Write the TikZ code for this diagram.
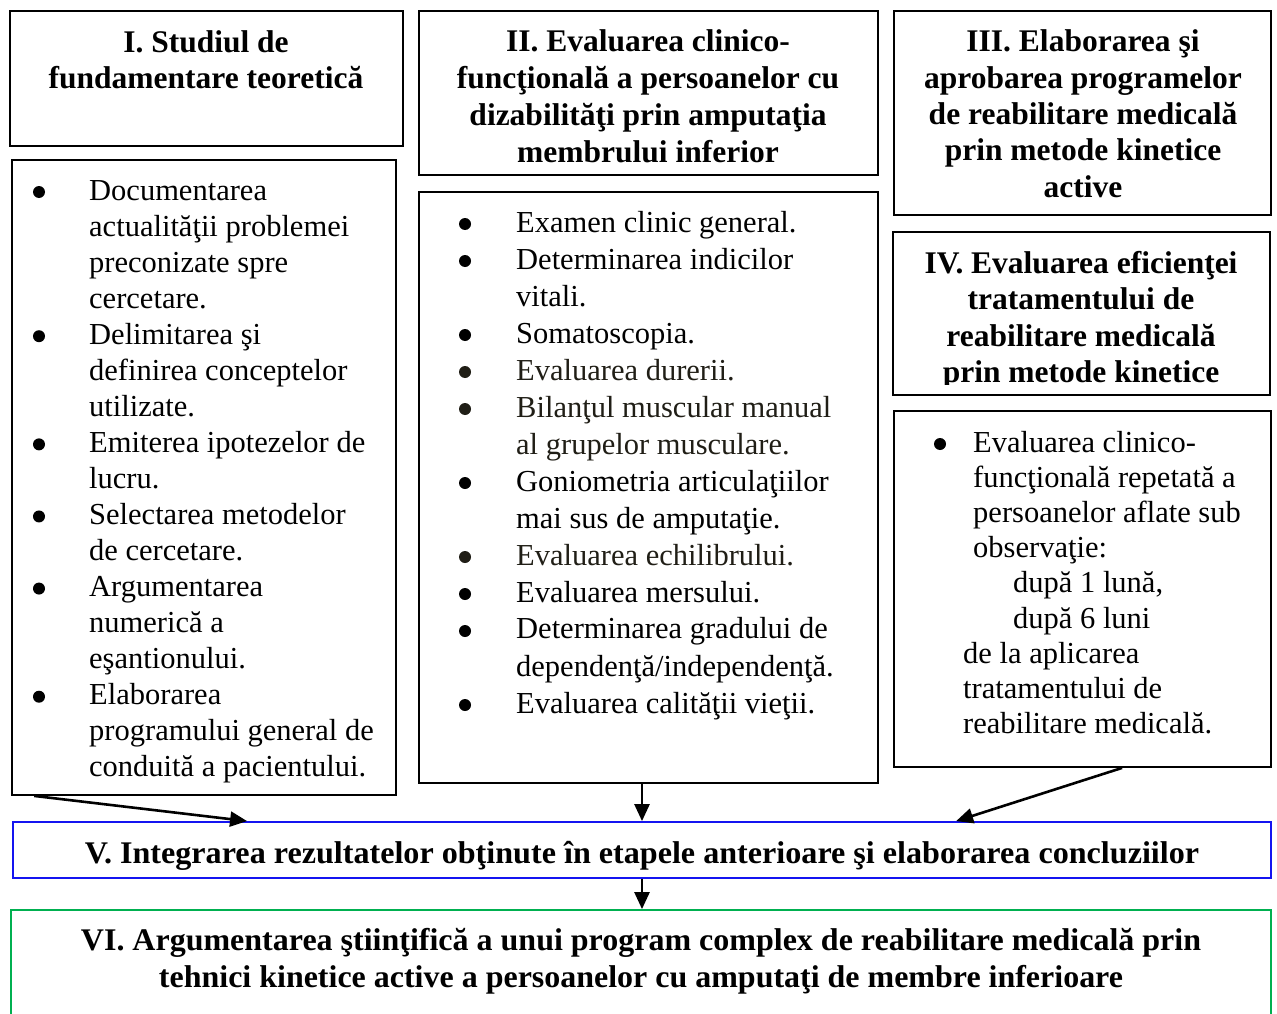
\documentclass[tikz,border=0pt]{standalone}
\usepackage{fontspec}
\usepackage{graphicx}
\setmainfont{Liberation Serif}
\usetikzlibrary{arrows.meta,fit,calc}
\definecolor{frameblue}{RGB}{20,20,240}
\definecolor{framegreen}{RGB}{0,176,80}
\definecolor{softink}{RGB}{32,30,22}
\tikzset{
  frame/.style={draw=black, line width=1.8pt, inner sep=0pt},
  txt/.style={inner sep=0pt, anchor=base west},
  ttl/.style={inner sep=0pt, anchor=base},
  flow/.style={line width=2.6pt, -{Triangle[length=17pt,width=15pt]}},
  dot/.style={fill=black},
}
\newcommand{\regsize}[1]{\fontsize{30.5}{#1}\selectfont}
\newcommand{\boldsize}[1]{\fontsize{31.5}{#1}\selectfont\bfseries}

\begin{document}
\begin{tikzpicture}[x=1pt,y=-1pt]
\useasboundingbox (0,0) rectangle (1277,1014);

% ---- frames ----
\node[frame, fit={(10,11) (403,146)}] (b1) {};
\node[frame, fit={(12,160) (396,795)}] (l1) {};
\node[frame, fit={(419,11) (878,175)}] (b2) {};
\node[frame, fit={(419,192) (878,783)}] (l2) {};
\node[frame, fit={(894,11) (1271,215)}] (b3) {};
\node[frame, fit={(893,232) (1270,395)}] (b4) {};
\node[frame, fit={(894,411) (1271,767)}] (l4) {};
\node[frame, draw=frameblue, fit={(13,822) (1271,878)}] (v) {};
\node[frame, draw=framegreen, fit={(11,910) (1271,1040)}] (v6) {};

% ---- stage I ----
\node[ttl] (t1) at (206,53) {\begin{minipage}[t]{380pt}\centering\boldsize{36}
I. Studiul de\\fundamentare teoretică\end{minipage}};

\node[txt] (l1t) at (89,200) {\begin{minipage}[t]{300pt}\raggedright\regsize{36.05}
Documentarea\\actualităţii problemei\\preconizate spre\\cercetare.\\
Delimitarea şi\\definirea conceptelor\\utilizate.\\
Emiterea ipotezelor de\\lucru.\\
Selectarea metodelor\\de cercetare.\\
Argumentarea\\numerică a\\eşantionului.\\
Elaborarea\\programului general de\\conduită a pacientului.\end{minipage}};
\foreach \k in {0,4,7,9,11,14}
  \fill[dot] (39,{200+36.05*\k-8}) circle (6);

% ---- stage II ----
\node[ttl] (t2) at (648,52) {\begin{minipage}[t]{450pt}\centering\boldsize{36.7}
II. Evaluarea clinico-\\funcţională a persoanelor cu\\dizabilităţi prin amputaţia\\membrului inferior\end{minipage}};

\node[txt] (l2t) at (516,232) {\begin{minipage}[t]{350pt}\raggedright\regsize{37}
Examen clinic general.\\
Determinarea indicilor\\vitali.\\
Somatoscopia.\\
{\color{softink}Evaluarea durerii.}\\
{\color{softink}Bilanţul muscular manual}\\{\color{softink}al grupelor musculare.}\\
Goniometria articulaţiilor\\mai sus de amputaţie.\\
{\color{softink}Evaluarea echilibrului.}\\
Evaluarea mersului.\\
Determinarea gradului de\\dependenţă/independenţă.\\
Evaluarea calităţii vieţii.\end{minipage}};
\foreach \k in {0,1,3,7,10,11,13}
  \fill[dot] (465,{232+37*\k-8}) circle (6);
\foreach \k in {4,5,9}
  \fill[dot, fill=softink] (465,{232+37*\k-8}) circle (6);

% ---- stage III ----
\node[ttl] (t3) at (1083,52) {\begin{minipage}[t]{370pt}\centering\boldsize{36.3}
III. Elaborarea şi\\aprobarea programelor\\de reabilitare medicală\\prin metode kinetice\\active\end{minipage}};

% ---- stage IV ----
\begin{scope}
\clip (893,232) rectangle (1270,384);
\node[ttl] (t4) at (1081,273) {\begin{minipage}[t]{370pt}\centering\boldsize{36.5}
IV. Evaluarea eficienţei\\tratamentului de\\reabilitare medicală\\prin metode kinetice\end{minipage}};
\end{scope}

\node[txt] (l4t) at (963,452) {\begin{minipage}[t]{300pt}\raggedright\regsize{35.2}
\hspace*{10pt}Evaluarea clinico-\\
\hspace*{10pt}funcţională repetată a\\
\hspace*{10pt}persoanelor aflate sub\\
\hspace*{10pt}observaţie:\\
\hspace*{50pt}după 1 lună,\\
\hspace*{50pt}după 6 luni\\
de la aplicarea\\tratamentului de\\reabilitare medicală.\end{minipage}};
\fill[dot] (940,444) circle (6);

% ---- stage V ----
\node[ttl] (vt) at (642,863) {\resizebox{1114pt}{\height}{\boldsize{36}V. Integrarea rezultatelor obţinute în etapele anterioare şi elaborarea concluziilor}};

% ---- stage VI ----
\node[ttl] (v6t) at (641,950) {\begin{minipage}[t]{1200pt}\centering\boldsize{37}
\resizebox{1120pt}{\height}{VI. Argumentarea ştiinţifică a unui program complex de reabilitare medicală prin}\\
\resizebox{964pt}{\height}{tehnici kinetice active a persoanelor cu amputaţi de membre inferioare}\end{minipage}};

% ---- connectors ----
\draw[flow] ($(l1.south west)+(23,0)$) -- ($(v.north west)+(235,0)$);
\draw[flow] (l2.south -| v.north) -- (v.north);
\draw[flow] ($(l4.south west)+(229,0)$) -- ($(v.north west)+(944,0)$);
\draw[flow] (v.south) -- (v.south |- v6.north);
\end{tikzpicture}
\end{document}
